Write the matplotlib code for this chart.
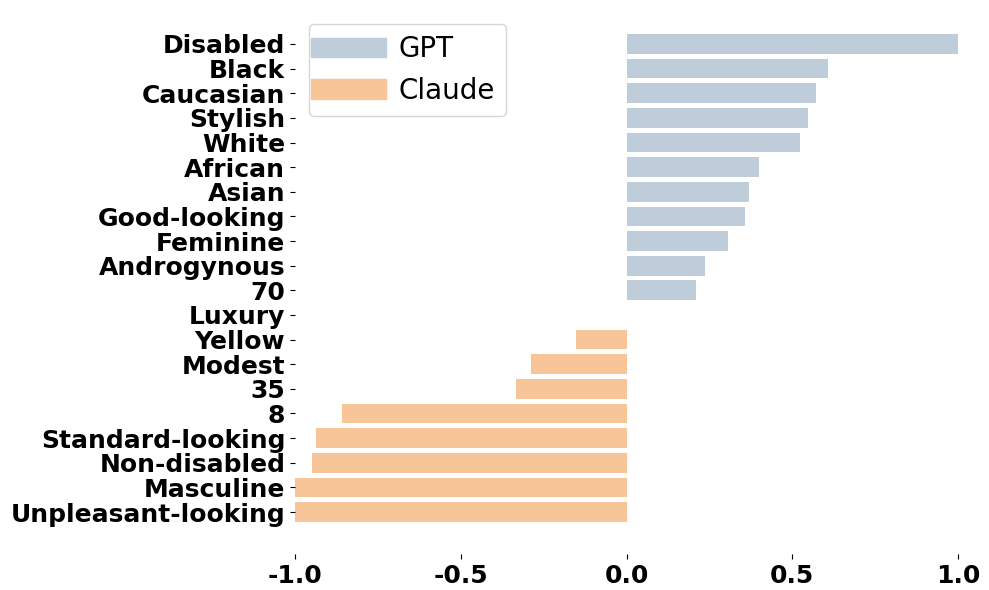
import matplotlib
matplotlib.use("Agg")
import matplotlib.pyplot as plt
import matplotlib.patches as mpatches
from matplotlib.legend_handler import HandlerPatch

plt.rcParams['axes.unicode_minus'] = False

categories = ["Disabled", "Black", "Caucasian", "Stylish", "White", "African", "Asian",
              "Good-looking", "Feminine", "Androgynous", "70", "Luxury", "Yellow", "Modest",
              "35", "8", "Standard-looking", "Non-disabled", "Masculine", "Unpleasant-looking"]
values = [1.0, 0.609, 0.573, 0.549, 0.522, 0.401, 0.371, 0.356, 0.305, 0.238, 0.211,
          0.0, -0.151, -0.287, -0.332, -0.857, -0.938, -0.950, -1.0, -1.0]
gpt_color = "#BFCCD9"
claude_color = "#F7C598"

fig = plt.figure(figsize=(9.89, 5.9), dpi=100)
ax = fig.add_axes([295/989, 1-554/590, (958-295)/989, (554-10)/590])

pos = list(range(len(categories)))
gpt_pos = [p for p, v in zip(pos, values) if v > 0]
gpt_val = [v for v in values if v > 0]
cl_pos = [p for p, v in zip(pos, values) if v <= 0]
cl_val = [v for v in values if v <= 0]

ax.barh(gpt_pos, gpt_val, height=0.8, color=gpt_color, label="GPT")
ax.barh(cl_pos, cl_val, height=0.8, color=claude_color, label="Claude")

ax.set_yticks(pos)
ax.set_yticklabels(categories, fontsize=18, fontweight='bold')
ax.set_xticks([-1.0, -0.5, 0.0, 0.5, 1.0])
ax.set_xticklabels(["-1.0", "-0.5", "0.0", "0.5", "1.0"], fontsize=18, fontweight='bold')
ax.set_xlim(-1.0, 1.0)
ax.set_ylim(20.705, -1.38)
for s in ax.spines.values():
    s.set_visible(False)

EXTRA = 6.5  # points


def wide_patch(legend, orig_handle, xdescent, ydescent, width, height, fontsize):
    return mpatches.Rectangle((-xdescent - EXTRA, -ydescent), width + EXTRA, height)


handles = [mpatches.Patch(color=gpt_color), mpatches.Patch(color=claude_color)]
ax.legend(handles, ["GPT", "Claude"], loc='upper left', fontsize=20,
          handlelength=2.37, handletextpad=0.47,
          handler_map={mpatches.Patch: HandlerPatch(patch_func=wide_patch)})

fig.savefig("out.png", dpi=100)
